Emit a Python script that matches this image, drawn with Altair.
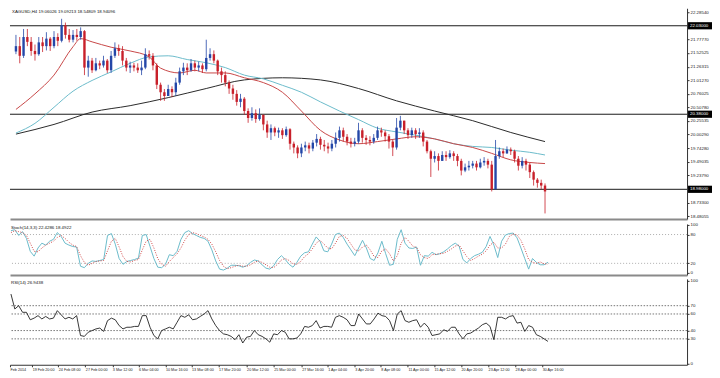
import json
import altair as alt
import pandas as pd

# ---------------- data ----------------
header = "XAGUSD,H4 19.06026 19.09213 18.54809 18.94096"
stoch_title = "Stoch(14,3,3) 22.4286 18.4922"
rsi_title = "RSI(14) 26.9438"

first_open = 21.55
close = [21.65, 21.47, 21.82, 21.73, 21.56, 21.50, 21.72, 21.65, 21.79, 21.65,
         21.82, 21.75, 22.04, 21.86, 21.77, 21.86, 21.82, 21.93, 21.25, 21.38,
         21.20, 21.33, 21.29, 21.38, 21.20, 21.47, 21.61, 21.56, 21.38, 21.25,
         21.29, 21.25, 21.20, 21.25, 21.50, 21.47, 21.29, 20.93, 20.79, 20.72,
         20.85, 20.79, 20.97, 21.18, 21.25, 21.20, 21.33, 21.25, 21.29, 21.22,
         21.43, 21.50, 21.38, 21.18, 21.11, 20.97, 20.86, 20.76, 20.61, 20.67,
         20.44, 20.31, 20.40, 20.29, 20.37, 20.19, 20.04, 20.12, 20.04, 20.08,
         19.99, 20.10, 19.83, 19.76, 19.65, 19.76, 19.80, 19.74, 19.85, 19.92,
         19.81, 19.78, 19.74, 19.83, 19.94, 20.08, 19.96, 19.87, 19.83, 19.87,
         20.08, 19.94, 19.90, 19.87, 19.94, 20.08, 20.04, 19.97, 19.87, 19.76,
         20.13, 20.26, 20.08, 19.99, 20.08, 20.01, 20.04, 19.87, 19.69, 19.55,
         19.60, 19.51, 19.62, 19.58, 19.65, 19.60, 19.51, 19.33, 19.39, 19.42,
         19.46, 19.39, 19.48, 19.51, 19.44, 18.98, 19.60, 19.69, 19.65, 19.72,
         19.69, 19.55, 19.42, 19.51, 19.44, 19.30, 19.16, 19.10, 19.05, 18.94]
high = [21.86, 21.82, 21.97, 21.97, 21.82, 21.68, 21.82, 21.82, 21.91, 21.82,
        21.93, 21.89, 22.16, 22.09, 21.97, 21.95, 21.97, 22.00, 21.95, 21.47,
        21.43, 21.43, 21.38, 21.47, 21.41, 21.56, 21.72, 21.68, 21.65, 21.43,
        21.36, 21.34, 21.33, 21.38, 21.61, 21.57, 21.52, 21.33, 20.97, 20.85,
        20.93, 20.90, 21.06, 21.25, 21.34, 21.33, 21.41, 21.38, 21.36, 21.33,
        21.77, 21.61, 21.57, 21.40, 21.25, 21.18, 21.01, 20.93, 20.83, 20.76,
        20.70, 20.49, 20.51, 20.47, 20.49, 20.37, 20.26, 20.19, 20.15, 20.13,
        20.12, 20.15, 20.12, 19.87, 19.80, 19.83, 19.87, 19.85, 19.90, 20.01,
        19.96, 19.90, 19.85, 19.90, 20.04, 20.15, 20.13, 20.01, 19.94, 19.94,
        20.22, 20.12, 19.99, 19.97, 20.01, 20.15, 20.13, 20.08, 20.01, 19.90,
        20.31, 20.35, 20.26, 20.12, 20.13, 20.12, 20.12, 20.08, 19.90, 19.72,
        19.69, 19.65, 19.69, 19.69, 19.71, 19.69, 19.64, 19.55, 19.46, 19.51,
        19.51, 19.51, 19.55, 19.58, 19.55, 19.51, 19.90, 19.76, 19.74, 19.78,
        19.76, 19.72, 19.60, 19.58, 19.55, 19.48, 19.33, 19.19, 19.16, 19.09]
low = [21.50, 21.33, 21.43, 21.65, 21.47, 21.38, 21.47, 21.54, 21.57, 21.56,
       21.61, 21.65, 21.72, 21.79, 21.72, 21.72, 21.75, 21.77, 21.11, 21.08,
       21.15, 21.18, 21.22, 21.25, 21.15, 21.15, 21.43, 21.47, 21.29, 21.18,
       21.15, 21.18, 21.15, 21.11, 21.22, 21.40, 21.20, 20.85, 20.63, 20.63,
       20.72, 20.70, 20.72, 20.93, 21.11, 21.11, 21.17, 21.18, 21.18, 21.15,
       21.18, 21.38, 21.33, 21.11, 20.97, 20.90, 20.76, 20.65, 20.54, 20.51,
       20.37, 20.22, 20.26, 20.22, 20.26, 20.08, 19.94, 19.90, 19.97, 19.94,
       19.92, 19.96, 19.72, 19.65, 19.56, 19.58, 19.69, 19.65, 19.69, 19.78,
       19.72, 19.69, 19.65, 19.69, 19.76, 19.87, 19.87, 19.80, 19.76, 19.78,
       19.83, 19.85, 19.81, 19.80, 19.83, 19.90, 19.96, 19.87, 19.74, 19.60,
       19.72, 20.08, 20.01, 19.92, 19.94, 19.92, 19.94, 19.78, 19.65, 19.21,
       19.48, 19.33, 19.51, 19.51, 19.55, 19.51, 19.41, 19.24, 19.30, 19.33,
       19.37, 19.33, 19.37, 19.42, 19.37, 18.94, 18.98, 19.55, 19.58, 19.64,
       19.62, 19.48, 19.33, 19.37, 19.33, 19.19, 19.05, 19.01, 18.98, 18.53]

ma_red_idx = [0, 5, 10, 15, 17, 20, 25, 30, 35, 38, 43, 47, 50, 55, 60, 65, 70, 75, 80,
              85, 90, 95, 100, 105, 110, 115, 120, 125, 130, 135, 139]
ma_red = [20.47, 20.76, 21.11, 21.64, 21.79, 21.73, 21.63, 21.56, 21.45, 21.24, 21.15,
          21.20, 21.15, 21.15, 21.06, 20.97, 20.79, 20.44, 20.08, 19.90, 19.83, 19.87,
          19.92, 19.96, 19.92, 19.83, 19.76, 19.65, 19.53, 19.48, 19.46]
ma_cyan_idx = [0, 5, 10, 15, 20, 25, 30, 35, 40, 45, 50, 55, 60, 65, 70, 75, 80, 85, 90,
               95, 100, 105, 110, 115, 120, 125, 130, 135, 139]
ma_cyan = [20.03, 20.21, 20.51, 20.81, 21.01, 21.17, 21.33, 21.45, 21.47, 21.40, 21.34,
           21.25, 21.11, 21.04, 20.92, 20.79, 20.61, 20.44, 20.28, 20.12, 20.05, 19.99,
           19.92, 19.83, 19.78, 19.76, 19.71, 19.67, 19.62]
ma_black_idx = [0, 10, 20, 30, 40, 50, 60, 70, 80, 90, 100, 110, 120, 130, 139]
ma_black = [20.01, 20.19, 20.42, 20.54, 20.69, 20.86, 21.02, 21.06, 21.02, 20.86, 20.63,
            20.44, 20.26, 20.04, 19.87]

level_prices = [22.03, 20.38, 18.98]
level_labels = ["22.03000", "20.38000", "18.98000"]
price_ticks = [22.28540, 21.77770, 21.52525, 21.26315, 21.01270, 20.76025, 20.50780,
               20.25535, 20.00290, 19.74280, 19.49035, 19.23790, 18.73300, 18.48055]

stoch_main = [88, 90, 78, 86, 72, 45, 35, 52, 62, 58,
              66, 70, 84, 76, 62, 58, 55, 54, 14, 11,
              20, 25, 24, 26, 28, 78, 82, 60, 30, 18,
              24, 26, 28, 31, 78, 80, 55, 30, 12, 11,
              18, 38, 36, 45, 70, 84, 88, 82, 78, 74,
              72, 66, 48, 25, 8, 6, 10, 16, 16, 15,
              12, 15, 22, 27, 25, 17, 10, 8, 15, 28,
              36, 28, 18, 12, 22, 35, 42, 44, 60, 75,
              66, 46, 44, 60, 80, 83, 74, 60, 48, 36,
              52, 68, 52, 30, 26, 42, 66, 40, 16, 18,
              70, 90, 62, 52, 51, 54, 16, 36, 35, 43,
              38, 40, 44, 50, 57, 62, 56, 28, 21, 30,
              36, 39, 43, 55, 76, 58, 32, 66, 79, 82,
              83, 73, 52, 30, 8, 30, 22, 17, 17, 22.43]
stoch_signal = [84, 88, 86, 84, 78, 62, 45, 44, 52, 58,
                62, 66, 74, 78, 72, 64, 58, 55, 36, 22,
                16, 20, 24, 25, 26, 46, 66, 72, 54, 34,
                24, 23, 26, 28, 48, 66, 70, 52, 30, 18,
                14, 24, 32, 40, 52, 68, 80, 84, 82, 78,
                75, 70, 60, 44, 26, 14, 9, 11, 14, 16,
                14, 14, 17, 22, 25, 22, 17, 12, 11, 18,
                27, 30, 26, 19, 18, 24, 34, 40, 50, 62,
                68, 60, 52, 50, 62, 76, 78, 72, 60, 48,
                46, 54, 58, 48, 34, 32, 46, 50, 40, 25,
                36, 62, 74, 66, 56, 53, 38, 32, 30, 38,
                39, 40, 41, 45, 50, 56, 58, 46, 34, 26,
                30, 35, 39, 46, 58, 64, 52, 52, 60, 76,
                81, 79, 68, 50, 28, 22, 20, 23, 19, 18.49]
rsi = [84, 66, 70, 62, 62, 53, 55, 58, 54, 57,
       54, 55, 64, 59, 54, 56, 54, 58, 34, 33,
       38, 40, 42, 43, 39, 52, 55, 53, 46, 42,
       44, 44, 45, 45, 58, 58, 44, 34, 30, 40,
       42, 44, 42, 50, 58, 56, 59, 53, 54, 57,
       60, 64, 54, 46, 40, 36, 35, 33, 29, 35,
       25, 32, 33, 40, 35, 33, 30, 26, 36, 35,
       40, 38, 30, 30, 31, 36, 45, 44, 46, 52,
       43, 45, 45, 44, 56, 58, 56, 53, 46, 46,
       60, 54, 48, 48, 54, 61, 58, 57, 52, 40,
       60, 64, 52, 50, 52, 53, 44, 49, 44, 34,
       35, 36, 41, 39, 44, 44, 36, 30, 36, 37,
       40, 43, 47, 49, 45, 29, 56, 56, 54, 57,
       58, 49, 50, 39, 46, 44, 35, 33, 30, 26.94]
stoch_levels = [20, 80]
rsi_levels = [30, 40, 60, 70]

time_labels = ["Feb 2014", "19 Feb 20:00", "24 Feb 08:00", "27 Feb 00:00", "3 Mar 12:00",
               "6 Mar 04:00", "10 Mar 16:00", "13 Mar 08:00", "17 Mar 20:00", "20 Mar 12:00",
               "25 Mar 00:00", "27 Mar 16:00", "1 Apr 04:00", "3 Apr 20:00", "8 Apr 08:00",
               "11 Apr 00:00", "15 Apr 12:00", "20 Apr 20:00", "23 Apr 12:00", "28 Apr 00:00",
               "30 Apr 16:00"]
time_pos = [-0.25, 5.5, 12.25, 19.25, 26.25, 33, 40, 46.75, 53.75, 61, 68, 75.25, 82, 89,
            95.75, 102.75, 109.5, 116.5, 123.5, 130.5, 137.5]

# ---------------- tables ----------------
n = len(close)
opens = [first_open] + close[:-1]
bars = pd.DataFrame({"i": list(range(n)), "open": opens, "close": close, "high": high, "low": low})
bars["high"] = bars[["high", "open", "close"]].max(axis=1)
bars["low"] = bars[["low", "open", "close"]].min(axis=1)
bars["up"] = bars["close"] >= bars["open"]
up_bars = bars[bars["up"]]
down_bars = bars[~bars["up"]]

red_df = pd.DataFrame({"i": ma_red_idx, "v": ma_red})
cyan_df = pd.DataFrame({"i": ma_cyan_idx, "v": ma_cyan})
black_df = pd.DataFrame({"i": ma_black_idx, "v": ma_black})
levels = pd.DataFrame({"p": level_prices, "t": level_labels})
osc = pd.DataFrame({"i": list(range(n)), "main": stoch_main, "sig": stoch_signal, "rsi": rsi})

# ---------------- style ----------------
W = 678
H1, H2, H3 = 211, 51, 86
FONT = "Liberation Sans"
FS = 4.4
TFS = 3.7
BLUE = "#2447a8"
RED = "#c8202a"

xscale = alt.Scale(domain=[-0.25, 175], nice=False, zero=False)
sep_axis = alt.Axis(labels=False, ticks=False, grid=False, title=None,
                    domainColor="#8a8a8a", domainWidth=2)
main_axis = alt.Axis(orient="right", values=price_ticks, format=".5f", title=None, grid=False,
                     tickSize=2, labelPadding=1, domainColor="#333", tickColor="#333",
                     labelColor="#222")
yscale = alt.Scale(domain=[18.427, 22.3565], nice=False, zero=False)
X = alt.X("i:Q", scale=xscale, axis=sep_axis)


def Yp(field):
    return alt.Y(field, scale=yscale, axis=main_axis)


hl = alt.Chart(levels).mark_rule(color="#1a1a1a", strokeWidth=1).encode(y=Yp("p:Q"))


def ma_line(df, colour):
    return alt.Chart(df).mark_line(strokeWidth=1, interpolate="monotone", color=colour).encode(
        x=X, y=Yp("v:Q"))


def candles(df, colour):
    wick = alt.Chart(df).mark_rule(strokeWidth=0.8, color=colour).encode(
        x=X, y=Yp("low:Q"), y2="high:Q")
    body = alt.Chart(df).mark_bar(size=2.4, color=colour).encode(
        x=X, y=Yp("open:Q"), y2="close:Q")
    return [wick, body]


tag_box = alt.Chart(levels).mark_point(
    shape="M0,-1.8H12V1.8H0Z", size=16, filled=True, color="#000", opacity=1).encode(
    x=alt.value(W + 1), y=Yp("p:Q"))
tag_txt = alt.Chart(levels).mark_text(align="left", baseline="middle", color="#fff",
                                       fontSize=FS, font=FONT).encode(
    x=alt.value(W + 3), y=Yp("p:Q"), text="t:N")
head = alt.Chart(pd.DataFrame({"t": [header]})).mark_text(
    align="left", baseline="top", fontSize=FS, font=FONT, color="#111").encode(
    x=alt.value(2), y=alt.value(2), text="t:N")

main = alt.layer(
    hl,
    ma_line(black_df, "#2b2b2b"), ma_line(cyan_df, "#6cbccb"), ma_line(red_df, "#c84848"),
    *candles(up_bars, BLUE), *candles(down_bars, RED),
    tag_box, tag_txt, head
).properties(width=W, height=H1)

# stochastic
st_axis = alt.Axis(orient="right", values=[0, 20, 80, 100], title=None, grid=False, tickSize=2,
                   labelPadding=1, domainColor="#333", tickColor="#333", labelColor="#222")
st_scale = alt.Scale(domain=[-4, 102], nice=False, zero=False)
st_lv = alt.Chart(pd.DataFrame({"v": stoch_levels})).mark_rule(
    color="#9a9a9a", strokeWidth=0.8, strokeDash=[1, 2]).encode(
    y=alt.Y("v:Q", scale=st_scale, axis=st_axis))
st_main = alt.Chart(osc).mark_line(color="#6cbccb", strokeWidth=1).encode(
    x=X, y=alt.Y("main:Q", scale=st_scale, axis=st_axis))
st_sig = alt.Chart(osc).mark_line(color="#d04848", strokeWidth=1, strokeDash=[1, 1.5]).encode(
    x=X, y=alt.Y("sig:Q", scale=st_scale, axis=st_axis))
st_head = alt.Chart(pd.DataFrame({"t": [stoch_title]})).mark_text(
    align="left", baseline="top", fontSize=FS, font=FONT, color="#111").encode(
    x=alt.value(1), y=alt.value(2), text="t:N")
stoch = alt.layer(st_lv, st_main, st_sig, st_head).properties(width=W, height=H2)

# RSI
label_expr = "{}[indexof({}, datum.value)]".format(json.dumps(time_labels), json.dumps(time_pos))
time_axis = alt.Axis(values=time_pos, labelExpr=label_expr, labelAlign="left", labelFlush=False,
                     labelOverlap=False, tickSize=2, labelPadding=1, domainColor="#333",
                     tickColor="#333", labelColor="#222", grid=False, title=None,
                     labelFontSize=TFS)
XR = alt.X("i:Q", scale=xscale, axis=time_axis)
r_axis = alt.Axis(orient="right", values=[0, 30, 40, 60, 70, 100], title=None, grid=False,
                  tickSize=2, labelPadding=1, domainColor="#333", tickColor="#333",
                  labelColor="#222")
r_scale = alt.Scale(domain=[-1.2, 102.3], nice=False, zero=False)
r_lv = alt.Chart(pd.DataFrame({"v": rsi_levels})).mark_rule(
    color="#555", strokeWidth=0.8, strokeDash=[1.5, 1.5]).encode(
    y=alt.Y("v:Q", scale=r_scale, axis=r_axis))
r_line = alt.Chart(osc).mark_line(color="#222", strokeWidth=0.9).encode(
    x=XR, y=alt.Y("rsi:Q", scale=r_scale, axis=r_axis))
r_head = alt.Chart(pd.DataFrame({"t": [rsi_title]})).mark_text(
    align="left", baseline="top", fontSize=FS, font=FONT, color="#111").encode(
    x=alt.value(1), y=alt.value(2), text="t:N")
rsi_chart = alt.layer(r_lv, r_line, r_head).properties(width=W, height=H3)

chart = alt.vconcat(main, stoch, rsi_chart, spacing=2).properties(
    padding=0, background="#ffffff"
).configure_view(stroke=None).configure_axis(
    labelFont=FONT, labelFontSize=FS
)

chart.save("out.html", embed_options={"renderer": "svg", "actions": False})
